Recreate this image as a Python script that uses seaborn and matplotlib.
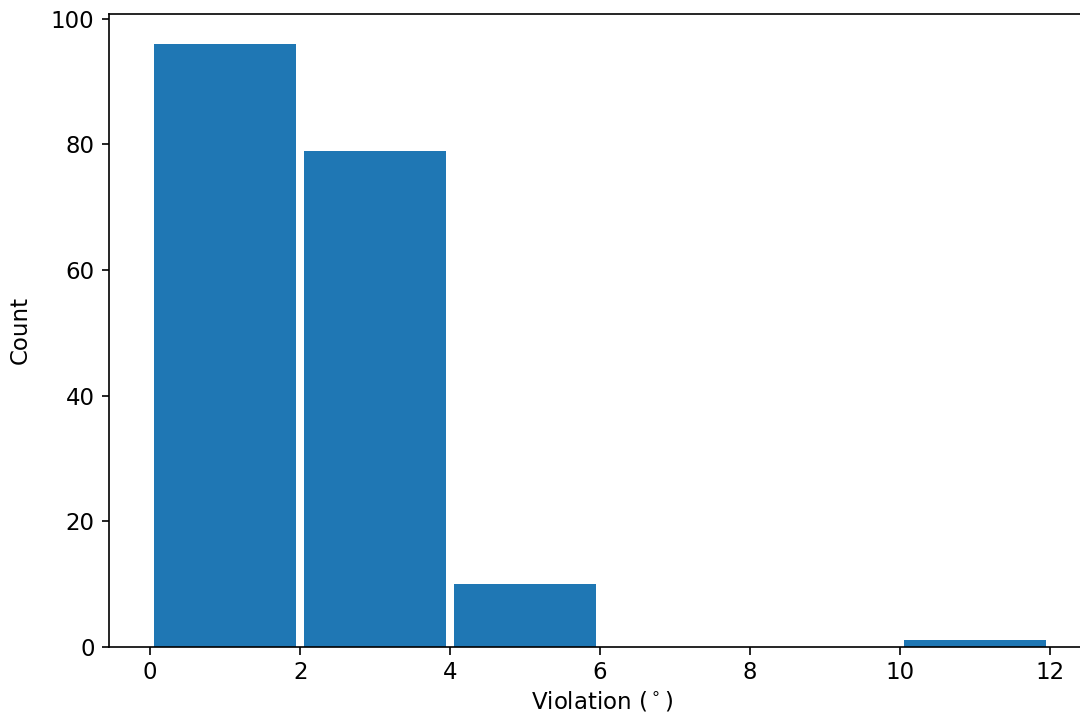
import matplotlib
matplotlib.use("Agg")
import matplotlib.pyplot as plt
import seaborn as sns
import numpy as np

bin_edges = [0, 2, 4, 6, 8, 10, 12]
counts = [96, 79, 10, 0, 0, 1]
bin_centers = [1, 3, 5, 7, 9, 11]

plt.rcParams['font.family'] = ['DejaVu Sans']
plt.rcParams['font.size'] = 16.5
plt.rcParams['axes.linewidth'] = 1.2

fig = plt.figure(figsize=(10.8, 7.13), dpi=100)
ax = fig.add_axes([109/1080, 66.3/713, (1095-109)/1080, (646.7-13.7)/713])

sns.histplot(x=bin_centers, weights=counts, bins=bin_edges, shrink=0.95,
             color='#1f77b4', alpha=1, linewidth=0, ax=ax)

ax.set_xlim(-0.55, 12.6)
ax.set_ylim(0, 100.8)
ax.set_xticks([0, 2, 4, 6, 8, 10, 12])
ax.set_yticks([0, 20, 40, 60, 80, 100])
ax.tick_params(axis='both', labelsize=16.5, length=5.4, width=1.2, pad=5)
ax.set_ylabel('Count', fontsize=16.5, labelpad=14)
ax.set_xlabel(r'Violation ($^\circ$)', fontsize=16.5, labelpad=4)

fig.savefig('out.png', dpi=100)
